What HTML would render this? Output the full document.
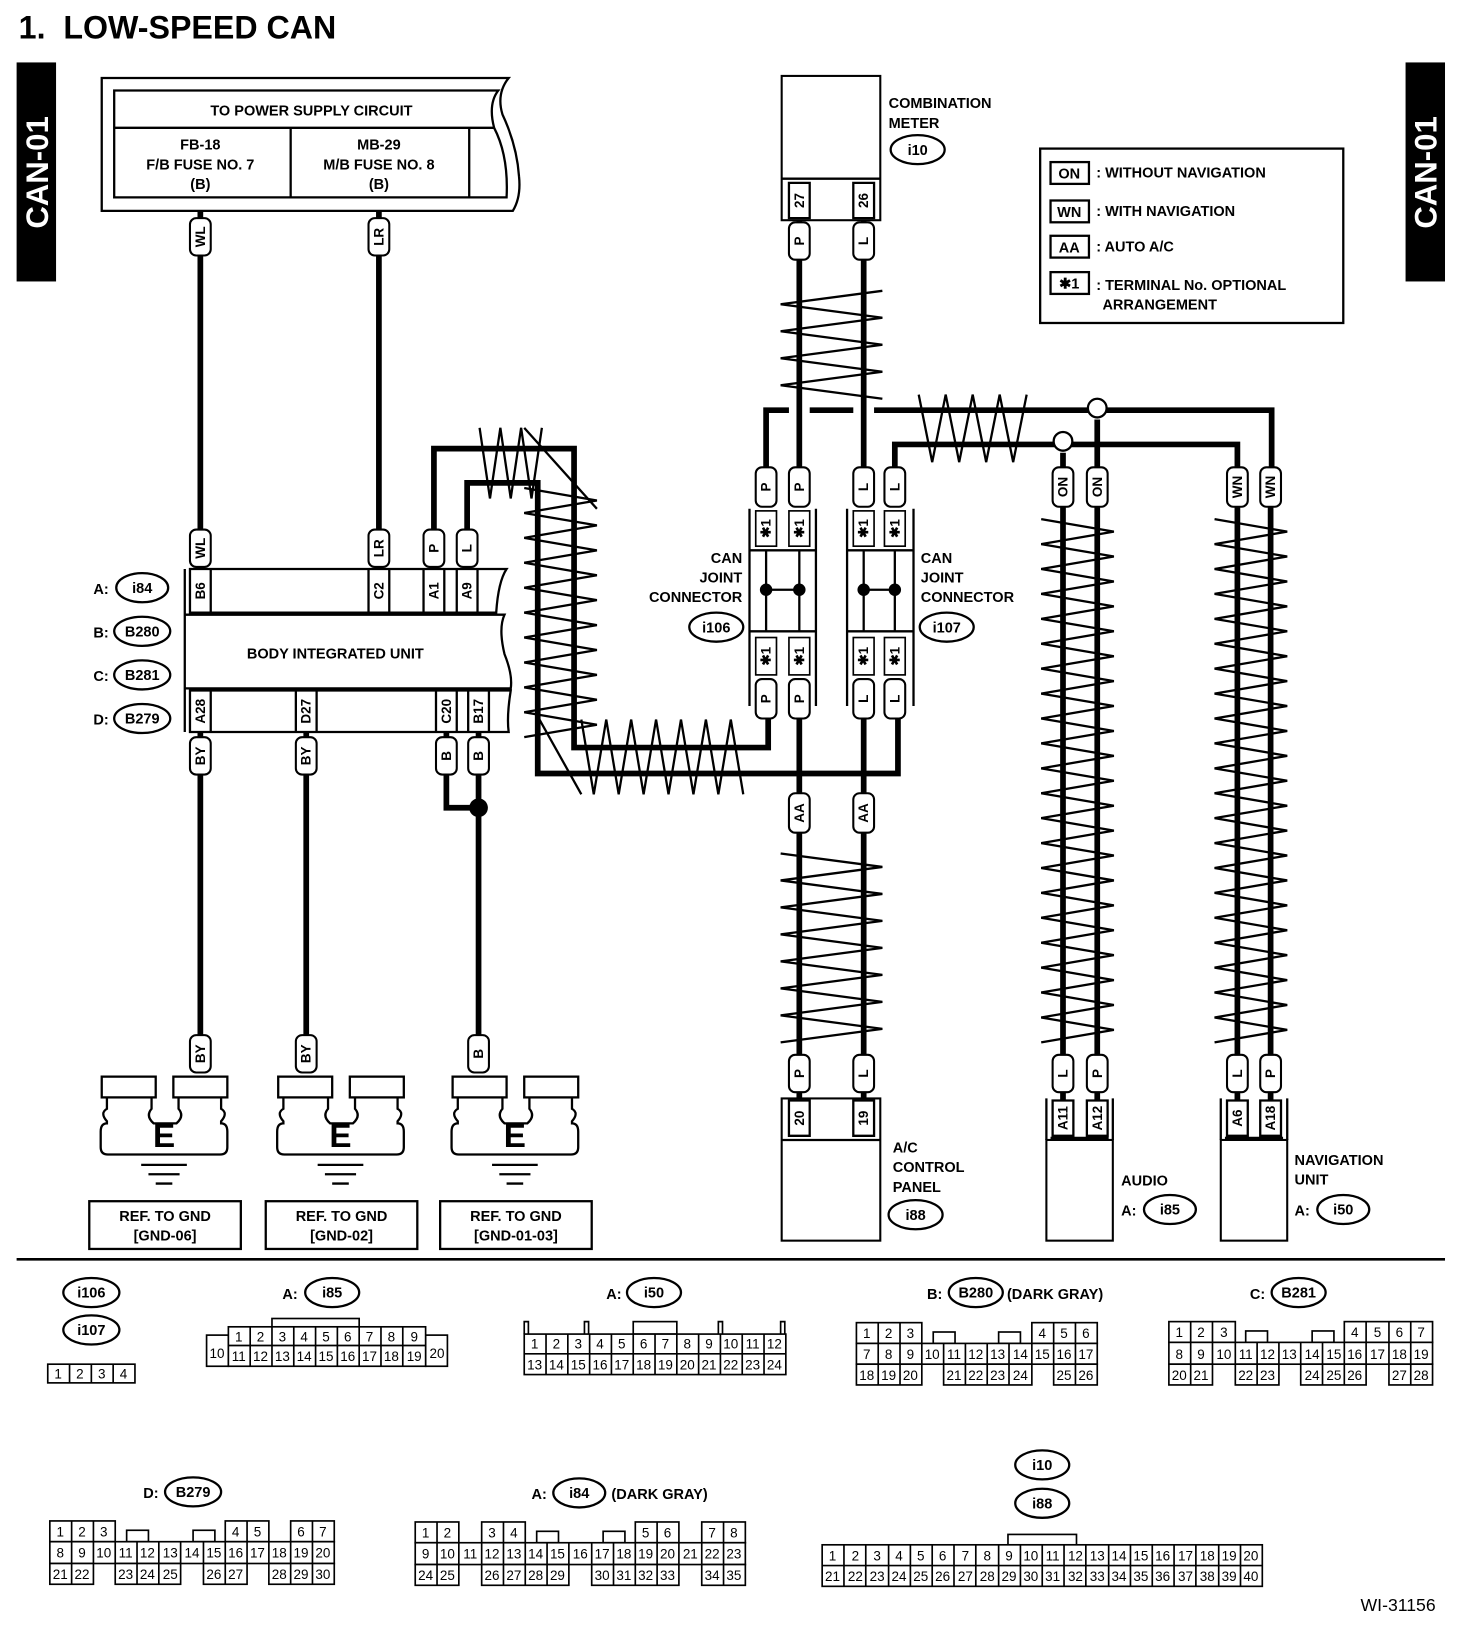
<!DOCTYPE html>
<html><head><meta charset="utf-8"><style>
html,body{margin:0;padding:0;background:#fff}
svg{display:block}
text{font-family:"Liberation Sans",sans-serif;font-weight:bold;fill:#000}
.o{fill:none;stroke:#000;stroke-width:2.2}
.w{fill:none;stroke:#000;stroke-width:5.5}
.z{fill:none;stroke:#000;stroke-width:2.2}
.p{fill:#fff;stroke:#000;stroke-width:2}
.c{fill:#fff;stroke:#000;stroke-width:1.6}
.t14{font-size:14px}
.t13{font-size:13px}
.n{font-size:13px;font-weight:normal}
</style></head><body>
<svg width="1472" height="1628" viewBox="0 0 1418 1568" xmlns="http://www.w3.org/2000/svg">
<rect width="1418" height="1568" fill="#fff"/>
<text x="18" y="37" font-size="31" xml:space="preserve">1.  LOW-SPEED CAN</text>
<rect x="16" y="60" width="38" height="211" fill="#000"/>
<text transform="translate(46,166) rotate(-90)" text-anchor="middle" font-size="30" style="fill:#fff">CAN-01</text>
<rect x="1354" y="60" width="38" height="211" fill="#000"/>
<text transform="translate(1384,166) rotate(-90)" text-anchor="middle" font-size="30" style="fill:#fff">CAN-01</text>

<!-- power supply box -->
<path class="o" d="M98,75 H490 Q478,90 484,110 Q498,140 500,170 Q502,190 494,203 H98 Z"/>
<path class="o" d="M110,87 H480 Q470,100 476,123 Q490,150 488,190 H110 Z"/>
<path class="o" d="M110,123 H476 M280,123 V190 M452,123 V190"/>
<text x="300" y="111" text-anchor="middle" class="t14">TO POWER SUPPLY CIRCUIT</text>
<text x="193" y="144" text-anchor="middle" class="t14">FB-18</text>
<text x="193" y="163" text-anchor="middle" class="t14">F/B FUSE NO. 7</text>
<text x="193" y="182" text-anchor="middle" class="t14">(B)</text>
<text x="365" y="144" text-anchor="middle" class="t14">MB-29</text>
<text x="365" y="163" text-anchor="middle" class="t14">M/B FUSE NO. 8</text>
<text x="365" y="182" text-anchor="middle" class="t14">(B)</text>

<!-- legend -->
<rect x="1002" y="143" width="292" height="168" class="o"/>
<rect x="1012" y="156" width="37" height="21" class="o"/><text x="1030" y="172" text-anchor="middle" class="t14">ON</text><text x="1056" y="171" class="t14">: WITHOUT NAVIGATION</text>
<rect x="1012" y="193" width="37" height="21" class="o"/><text x="1030" y="209" text-anchor="middle" class="t14">WN</text><text x="1056" y="208" class="t14">: WITH NAVIGATION</text>
<rect x="1012" y="227" width="37" height="21" class="o"/><text x="1030" y="243" text-anchor="middle" class="t14">AA</text><text x="1056" y="242" class="t14">: AUTO A/C</text>
<rect x="1012" y="262" width="37" height="21" class="o"/><text x="1030" y="278" text-anchor="middle" class="t14">✱1</text><text x="1056" y="279" class="t14">: TERMINAL No. OPTIONAL</text>
<text x="1062" y="298" class="t14">ARRANGEMENT</text>

<!-- wires left -->
<path class="w" d="M193,203 V548 M365,203 V548"/>
<path class="w" d="M193,705 V1000 M295,705 V1000 M430,705 V778 H461 M461,705 V1000"/>
<circle cx="461" cy="778" r="9" fill="#000"/>
<path class="w" d="M418,510 V432 H553 V720 H740 V690"/>
<path class="w" d="M450,510 V465 H518 V745 H865 V690"/>
<path class="w" d="M770,212 V450 M832,212 V450"/>
<path class="w" d="M738,450 V395 H760 M780,395 H822 M842,395 H1225 V450"/>
<path class="w" d="M862,450 V428 H1192 V450"/>
<path class="w" d="M1024,436 V450 M1057,404 V450"/>
<circle cx="1057" cy="393" r="9" fill="#fff" stroke="#000" stroke-width="2.2"/>
<circle cx="1024" cy="425" r="9" fill="#fff" stroke="#000" stroke-width="2.2"/>
<path class="w" d="M770,692 V1060 M832,692 V1060 M1024,488 V1060 M1057,488 V1060 M1192,488 V1060 M1224,488 V1060"/>

<!-- zigzags -->
<polyline class="z" points="850,280 752,293 850,306 752,319 850,332 752,345 850,358 752,371 850,384"/>
<polyline class="z" points="752,822 850,835 752,848 850,861 752,874 850,887 752,900 850,913 752,926 850,939 752,952 850,965 752,978 850,991 752,1004"/>
<polyline class="z" points="1003,500 1073,512 1003,524 1073,536 1003,548 1073,560 1003,572 1073,584 1003,596 1073,608 1003,620 1073,632 1003,644 1073,656 1003,668 1073,680 1003,692 1073,704 1003,716 1073,728 1003,740 1073,752 1003,764 1073,776 1003,788 1073,800 1003,812 1073,824 1003,836 1073,848 1003,860 1073,872 1003,884 1073,896 1003,908 1073,920 1003,932 1073,944 1003,956 1073,968 1003,980 1073,992 1003,1004"/>
<polyline class="z" points="1170,500 1240,512 1170,524 1240,536 1170,548 1240,560 1170,572 1240,584 1170,596 1240,608 1170,620 1240,632 1170,644 1240,656 1170,668 1240,680 1170,692 1240,704 1170,716 1240,728 1170,740 1240,752 1170,764 1240,776 1170,788 1240,800 1170,812 1240,824 1170,836 1240,848 1170,860 1240,872 1170,884 1240,896 1170,908 1240,920 1170,932 1240,944 1170,956 1240,968 1170,980 1240,992 1170,1004"/>
<polyline class="z" points="505,470 575,482 505,494 575,506 505,518 575,530 505,542 575,554 505,566 575,578 505,590 575,602 505,614 575,626 505,638 575,650 505,662 575,674 505,686 575,698 505,710"/>
<polyline class="z" points="560,693 572,765 584,693 596,765 608,693 620,765 632,693 644,765 656,693 668,765 680,693 692,765 704,693 716,765"/>
<polyline class="z" points="885,380 898,445 911,380 924,445 937,380 950,445 963,380 976,445 989,380"/>
<polyline class="z" points="462,412 472,480 482,412 492,480 502,412 512,480 522,412"/>
<path class="z" d="M505,412 L575,490 M518,690 L560,765"/>

<!-- combination meter -->
<rect x="753" y="73" width="95" height="139" class="p"/>
<path class="o" d="M753,172 H848 M760,176 V210 H780 V176 Z M822,176 V210 H842 V176 Z"/>
<text transform="translate(770,193) rotate(-90)" text-anchor="middle" dominant-baseline="central" class="t13">27</text>
<text transform="translate(832,193) rotate(-90)" text-anchor="middle" dominant-baseline="central" class="t13">26</text>
<text x="856" y="104" class="t14">COMBINATION</text><text x="856" y="123" class="t14">METER</text>
<ellipse cx="884" cy="144" rx="26" ry="14" class="o"/><text x="884" y="149" text-anchor="middle" class="t14">i10</text>

<!-- pills -->
<g>
<rect x="183" y="210" width="20" height="36" rx="6" class="p"/><text transform="translate(193,228) rotate(-90)" text-anchor="middle" dominant-baseline="central" class="t13">WL</text>
<rect x="355" y="210" width="20" height="36" rx="6" class="p"/><text transform="translate(365,228) rotate(-90)" text-anchor="middle" dominant-baseline="central" class="t13">LR</text>
<rect x="183" y="510" width="20" height="36" rx="6" class="p"/><text transform="translate(193,528) rotate(-90)" text-anchor="middle" dominant-baseline="central" class="t13">WL</text>
<rect x="355" y="510" width="20" height="36" rx="6" class="p"/><text transform="translate(365,528) rotate(-90)" text-anchor="middle" dominant-baseline="central" class="t13">LR</text>
<rect x="408" y="510" width="20" height="36" rx="6" class="p"/><text transform="translate(418,528) rotate(-90)" text-anchor="middle" dominant-baseline="central" class="t13">P</text>
<rect x="440" y="510" width="20" height="36" rx="6" class="p"/><text transform="translate(450,528) rotate(-90)" text-anchor="middle" dominant-baseline="central" class="t13">L</text>
<rect x="183" y="710" width="20" height="36" rx="6" class="p"/><text transform="translate(193,728) rotate(-90)" text-anchor="middle" dominant-baseline="central" class="t13">BY</text>
<rect x="285" y="710" width="20" height="36" rx="6" class="p"/><text transform="translate(295,728) rotate(-90)" text-anchor="middle" dominant-baseline="central" class="t13">BY</text>
<rect x="420" y="710" width="20" height="36" rx="6" class="p"/><text transform="translate(430,728) rotate(-90)" text-anchor="middle" dominant-baseline="central" class="t13">B</text>
<rect x="451" y="710" width="20" height="36" rx="6" class="p"/><text transform="translate(461,728) rotate(-90)" text-anchor="middle" dominant-baseline="central" class="t13">B</text>
<rect x="183" y="997" width="20" height="36" rx="6" class="p"/><text transform="translate(193,1015) rotate(-90)" text-anchor="middle" dominant-baseline="central" class="t13">BY</text>
<rect x="285" y="997" width="20" height="36" rx="6" class="p"/><text transform="translate(295,1015) rotate(-90)" text-anchor="middle" dominant-baseline="central" class="t13">BY</text>
<rect x="451" y="997" width="20" height="36" rx="6" class="p"/><text transform="translate(461,1015) rotate(-90)" text-anchor="middle" dominant-baseline="central" class="t13">B</text>
<rect x="760" y="214" width="20" height="36" rx="6" class="p"/><text transform="translate(770,232) rotate(-90)" text-anchor="middle" dominant-baseline="central" class="t13">P</text>
<rect x="822" y="214" width="20" height="36" rx="6" class="p"/><text transform="translate(832,232) rotate(-90)" text-anchor="middle" dominant-baseline="central" class="t13">L</text>
<rect x="728" y="450" width="20" height="38" rx="6" class="p"/><text transform="translate(738,469) rotate(-90)" text-anchor="middle" dominant-baseline="central" class="t13">P</text>
<rect x="760" y="450" width="20" height="38" rx="6" class="p"/><text transform="translate(770,469) rotate(-90)" text-anchor="middle" dominant-baseline="central" class="t13">P</text>
<rect x="822" y="450" width="20" height="38" rx="6" class="p"/><text transform="translate(832,469) rotate(-90)" text-anchor="middle" dominant-baseline="central" class="t13">L</text>
<rect x="852" y="450" width="20" height="38" rx="6" class="p"/><text transform="translate(862,469) rotate(-90)" text-anchor="middle" dominant-baseline="central" class="t13">L</text>
<rect x="728" y="654" width="20" height="38" rx="6" class="p"/><text transform="translate(738,673) rotate(-90)" text-anchor="middle" dominant-baseline="central" class="t13">P</text>
<rect x="760" y="654" width="20" height="38" rx="6" class="p"/><text transform="translate(770,673) rotate(-90)" text-anchor="middle" dominant-baseline="central" class="t13">P</text>
<rect x="822" y="654" width="20" height="38" rx="6" class="p"/><text transform="translate(832,673) rotate(-90)" text-anchor="middle" dominant-baseline="central" class="t13">L</text>
<rect x="852" y="654" width="20" height="38" rx="6" class="p"/><text transform="translate(862,673) rotate(-90)" text-anchor="middle" dominant-baseline="central" class="t13">L</text>
<rect x="1014" y="450" width="20" height="38" rx="6" class="p"/><text transform="translate(1024,469) rotate(-90)" text-anchor="middle" dominant-baseline="central" class="t13">ON</text>
<rect x="1047" y="450" width="20" height="38" rx="6" class="p"/><text transform="translate(1057,469) rotate(-90)" text-anchor="middle" dominant-baseline="central" class="t13">ON</text>
<rect x="1182" y="450" width="20" height="38" rx="6" class="p"/><text transform="translate(1192,469) rotate(-90)" text-anchor="middle" dominant-baseline="central" class="t13">WN</text>
<rect x="1214" y="450" width="20" height="38" rx="6" class="p"/><text transform="translate(1224,469) rotate(-90)" text-anchor="middle" dominant-baseline="central" class="t13">WN</text>
<rect x="760" y="764" width="20" height="38" rx="6" class="p"/><text transform="translate(770,783) rotate(-90)" text-anchor="middle" dominant-baseline="central" class="t13">AA</text>
<rect x="822" y="764" width="20" height="38" rx="6" class="p"/><text transform="translate(832,783) rotate(-90)" text-anchor="middle" dominant-baseline="central" class="t13">AA</text>
<rect x="760" y="1016" width="20" height="36" rx="6" class="p"/><text transform="translate(770,1034) rotate(-90)" text-anchor="middle" dominant-baseline="central" class="t13">P</text>
<rect x="822" y="1016" width="20" height="36" rx="6" class="p"/><text transform="translate(832,1034) rotate(-90)" text-anchor="middle" dominant-baseline="central" class="t13">L</text>
<rect x="1014" y="1016" width="20" height="36" rx="6" class="p"/><text transform="translate(1024,1034) rotate(-90)" text-anchor="middle" dominant-baseline="central" class="t13">L</text>
<rect x="1047" y="1016" width="20" height="36" rx="6" class="p"/><text transform="translate(1057,1034) rotate(-90)" text-anchor="middle" dominant-baseline="central" class="t13">P</text>
<rect x="1182" y="1016" width="20" height="36" rx="6" class="p"/><text transform="translate(1192,1034) rotate(-90)" text-anchor="middle" dominant-baseline="central" class="t13">L</text>
<rect x="1214" y="1016" width="20" height="36" rx="6" class="p"/><text transform="translate(1224,1034) rotate(-90)" text-anchor="middle" dominant-baseline="central" class="t13">P</text>
</g>

<!-- body integrated unit -->
<path class="o" d="M178,548 V705"/>
<path class="o" d="M183,548 H488 Q480,560 478,590 H183 Z"/>
<path class="o" d="M178,592 H486 Q480,605 486,630 Q494,650 492,663 H178"/>
<path class="o" d="M183,665 H492 Q488,690 490,705 H183 Z"/>
<path class="o" d="M203,548 V590 M355,548 V590 M375,548 V590 M408,548 V590 M428,548 V590 M440,548 V590 M460,548 V590"/>
<path class="o" d="M203,665 V705 M285,665 V705 M305,665 V705 M420,665 V705 M440,665 V705 M451,665 V705 M471,665 V705"/>
<text transform="translate(193,569) rotate(-90)" text-anchor="middle" dominant-baseline="central" class="t13">B6</text>
<text transform="translate(365,569) rotate(-90)" text-anchor="middle" dominant-baseline="central" class="t13">C2</text>
<text transform="translate(418,569) rotate(-90)" text-anchor="middle" dominant-baseline="central" class="t13">A1</text>
<text transform="translate(450,569) rotate(-90)" text-anchor="middle" dominant-baseline="central" class="t13">A9</text>
<text transform="translate(193,685) rotate(-90)" text-anchor="middle" dominant-baseline="central" class="t13">A28</text>
<text transform="translate(295,685) rotate(-90)" text-anchor="middle" dominant-baseline="central" class="t13">D27</text>
<text transform="translate(430,685) rotate(-90)" text-anchor="middle" dominant-baseline="central" class="t13">C20</text>
<text transform="translate(461,685) rotate(-90)" text-anchor="middle" dominant-baseline="central" class="t13">B17</text>
<text x="323" y="634" text-anchor="middle" class="t14">BODY INTEGRATED UNIT</text>
<text x="90" y="572" class="t14">A:</text><ellipse cx="137" cy="566" rx="25" ry="14" class="o"/><text x="137" y="571" text-anchor="middle" class="t14">i84</text>
<text x="90" y="614" class="t14">B:</text><ellipse cx="137" cy="608" rx="27" ry="14" class="o"/><text x="137" y="613" text-anchor="middle" class="t14">B280</text>
<text x="90" y="656" class="t14">C:</text><ellipse cx="137" cy="650" rx="27" ry="14" class="o"/><text x="137" y="655" text-anchor="middle" class="t14">B281</text>
<text x="90" y="698" class="t14">D:</text><ellipse cx="137" cy="692" rx="27" ry="14" class="o"/><text x="137" y="697" text-anchor="middle" class="t14">B279</text>

<!-- ground symbols -->
<g>
<rect x="98" y="1037" width="52" height="20" class="o"/><rect x="167" y="1037" width="52" height="20" class="o"/>
<path class="o" d="M103,1057 V1068 Q96,1072 103,1080 V1082 Q97,1082 97,1090 V1105 Q97,1112 104,1112 H212 Q219,1112 219,1105 V1090 Q219,1082 213,1082 V1080 Q220,1072 213,1068 V1057 M146,1057 V1068 Q140,1075 148,1082 H170 Q178,1075 172,1068 V1057"/>
<text x="158" y="1105" text-anchor="middle" font-size="32">E</text>
<path class="o" d="M136,1122 H180 M143,1131 H173 M150,1140 H166" stroke-width="2.8"/>
<rect x="86" y="1157" width="146" height="46" class="o"/>
<text x="159" y="1176" text-anchor="middle" class="t14">REF. TO GND</text><text x="159" y="1195" text-anchor="middle" class="t14">[GND-06]</text>
</g>
<g transform="translate(170,0)">
<rect x="98" y="1037" width="52" height="20" class="o"/><rect x="167" y="1037" width="52" height="20" class="o"/>
<path class="o" d="M103,1057 V1068 Q96,1072 103,1080 V1082 Q97,1082 97,1090 V1105 Q97,1112 104,1112 H212 Q219,1112 219,1105 V1090 Q219,1082 213,1082 V1080 Q220,1072 213,1068 V1057 M146,1057 V1068 Q140,1075 148,1082 H170 Q178,1075 172,1068 V1057"/>
<text x="158" y="1105" text-anchor="middle" font-size="32">E</text>
<path class="o" d="M136,1122 H180 M143,1131 H173 M150,1140 H166" stroke-width="2.8"/>
<rect x="86" y="1157" width="146" height="46" class="o"/>
<text x="159" y="1176" text-anchor="middle" class="t14">REF. TO GND</text><text x="159" y="1195" text-anchor="middle" class="t14">[GND-02]</text>
</g>
<g transform="translate(338,0)">
<rect x="98" y="1037" width="52" height="20" class="o"/><rect x="167" y="1037" width="52" height="20" class="o"/>
<path class="o" d="M103,1057 V1068 Q96,1072 103,1080 V1082 Q97,1082 97,1090 V1105 Q97,1112 104,1112 H212 Q219,1112 219,1105 V1090 Q219,1082 213,1082 V1080 Q220,1072 213,1068 V1057 M146,1057 V1068 Q140,1075 148,1082 H170 Q178,1075 172,1068 V1057"/>
<text x="158" y="1105" text-anchor="middle" font-size="32">E</text>
<path class="o" d="M136,1122 H180 M143,1131 H173 M150,1140 H166" stroke-width="2.8"/>
<rect x="86" y="1157" width="146" height="46" class="o"/>
<text x="159" y="1176" text-anchor="middle" class="t14">REF. TO GND</text><text x="159" y="1195" text-anchor="middle" class="t14">[GND-01-03]</text>
</g>

<!-- CAN joint connectors -->
<g>
<path class="o" d="M722,490 V680 M786,490 V680 M722,530 H786 M722,608 H786"/>
<rect x="728" y="492" width="20" height="34" class="c"/><rect x="760" y="492" width="20" height="34" class="c"/>
<rect x="728" y="614" width="20" height="36" class="c"/><rect x="760" y="614" width="20" height="36" class="c"/>
<path class="o" d="M738,530 V608 M770,530 V608 M738,568 H770"/>
<circle cx="738" cy="568" r="6" fill="#000"/><circle cx="770" cy="568" r="6" fill="#000"/>
<text transform="translate(738,509) rotate(-90)" text-anchor="middle" dominant-baseline="central" class="t13">✱1</text>
<text transform="translate(770,509) rotate(-90)" text-anchor="middle" dominant-baseline="central" class="t13">✱1</text>
<text transform="translate(738,632) rotate(-90)" text-anchor="middle" dominant-baseline="central" class="t13">✱1</text>
<text transform="translate(770,632) rotate(-90)" text-anchor="middle" dominant-baseline="central" class="t13">✱1</text>
</g>
<g transform="translate(94,0)">
<path class="o" d="M722,490 V680 M786,490 V680 M722,530 H786 M722,608 H786"/>
<rect x="728" y="492" width="20" height="34" class="c"/><rect x="758" y="492" width="20" height="34" class="c"/>
<rect x="728" y="614" width="20" height="36" class="c"/><rect x="758" y="614" width="20" height="36" class="c"/>
<path class="o" d="M738,530 V608 M768,530 V608 M738,568 H768"/>
<circle cx="738" cy="568" r="6" fill="#000"/><circle cx="768" cy="568" r="6" fill="#000"/>
<text transform="translate(738,509) rotate(-90)" text-anchor="middle" dominant-baseline="central" class="t13">✱1</text>
<text transform="translate(768,509) rotate(-90)" text-anchor="middle" dominant-baseline="central" class="t13">✱1</text>
<text transform="translate(738,632) rotate(-90)" text-anchor="middle" dominant-baseline="central" class="t13">✱1</text>
<text transform="translate(768,632) rotate(-90)" text-anchor="middle" dominant-baseline="central" class="t13">✱1</text>
</g>
<text x="715" y="542" text-anchor="end" class="t14">CAN</text><text x="715" y="561" text-anchor="end" class="t14">JOINT</text><text x="715" y="580" text-anchor="end" class="t14">CONNECTOR</text>
<ellipse cx="690" cy="604" rx="26" ry="14" class="o"/><text x="690" y="609" text-anchor="middle" class="t14">i106</text>
<text x="887" y="542" class="t14">CAN</text><text x="887" y="561" class="t14">JOINT</text><text x="887" y="580" class="t14">CONNECTOR</text>
<ellipse cx="912" cy="604" rx="26" ry="14" class="o"/><text x="912" y="609" text-anchor="middle" class="t14">i107</text>

<!-- A/C control panel -->
<rect x="753" y="1058" width="95" height="137" class="p"/>
<path class="o" d="M753,1098 H848 M760,1060 V1094 H780 V1060 Z M822,1060 V1094 H842 V1060 Z"/>
<text transform="translate(770,1077) rotate(-90)" text-anchor="middle" dominant-baseline="central" class="t13">20</text>
<text transform="translate(832,1077) rotate(-90)" text-anchor="middle" dominant-baseline="central" class="t13">19</text>
<text x="860" y="1110" class="t14">A/C</text><text x="860" y="1129" class="t14">CONTROL</text><text x="860" y="1148" class="t14">PANEL</text>
<ellipse cx="882" cy="1170" rx="26" ry="14" class="o"/><text x="882" y="1175" text-anchor="middle" class="t14">i88</text>

<!-- Audio -->
<rect x="1008" y="1098" width="64" height="97" class="p"/>
<path class="o" d="M1008,1058 V1098 M1072,1058 V1098 M1012,1096 H1068 M1014,1060 V1094 H1034 V1060 Z M1047,1060 V1094 H1067 V1060 Z"/>
<text transform="translate(1024,1077) rotate(-90)" text-anchor="middle" dominant-baseline="central" class="t13">A11</text>
<text transform="translate(1057,1077) rotate(-90)" text-anchor="middle" dominant-baseline="central" class="t13">A12</text>
<text x="1080" y="1142" class="t14">AUDIO</text>
<text x="1080" y="1171" class="t14">A:</text><ellipse cx="1127" cy="1165" rx="25" ry="14" class="o"/><text x="1127" y="1170" text-anchor="middle" class="t14">i85</text>

<!-- Nav -->
<rect x="1176" y="1098" width="64" height="97" class="p"/>
<path class="o" d="M1176,1058 V1098 M1240,1058 V1098 M1180,1096 H1236 M1182,1060 V1094 H1202 V1060 Z M1214,1060 V1094 H1234 V1060 Z"/>
<text transform="translate(1192,1077) rotate(-90)" text-anchor="middle" dominant-baseline="central" class="t13">A6</text>
<text transform="translate(1224,1077) rotate(-90)" text-anchor="middle" dominant-baseline="central" class="t13">A18</text>
<text x="1247" y="1122" class="t14">NAVIGATION</text><text x="1247" y="1141" class="t14">UNIT</text>
<text x="1247" y="1171" class="t14">A:</text><ellipse cx="1294" cy="1165" rx="25" ry="14" class="o"/><text x="1294" y="1170" text-anchor="middle" class="t14">i50</text>

<line x1="16" y1="1213" x2="1392" y2="1213" stroke="#000" stroke-width="2.5"/>

<!-- bottom connector labels -->
<ellipse cx="88" cy="1245" rx="27" ry="14" class="o"/><text x="88" y="1250" text-anchor="middle" class="t14">i106</text>
<ellipse cx="88" cy="1281" rx="27" ry="14" class="o"/><text x="88" y="1286" text-anchor="middle" class="t14">i107</text>
<text x="272" y="1251" class="t14">A:</text><ellipse cx="320" cy="1245" rx="26" ry="14" class="o"/><text x="320" y="1250" text-anchor="middle" class="t14">i85</text>
<text x="584" y="1251" class="t14">A:</text><ellipse cx="630" cy="1245" rx="26" ry="14" class="o"/><text x="630" y="1250" text-anchor="middle" class="t14">i50</text>
<text x="893" y="1251" class="t14">B:</text><ellipse cx="940" cy="1245" rx="26" ry="14" class="o"/><text x="940" y="1250" text-anchor="middle" class="t14">B280</text><text x="970" y="1251" class="t14">(DARK GRAY)</text>
<text x="1204" y="1251" class="t14">C:</text><ellipse cx="1251" cy="1245" rx="26" ry="14" class="o"/><text x="1251" y="1250" text-anchor="middle" class="t14">B281</text>
<text x="138" y="1443" class="t14">D:</text><ellipse cx="186" cy="1437" rx="27" ry="14" class="o"/><text x="186" y="1442" text-anchor="middle" class="t14">B279</text>
<text x="512" y="1444" class="t14">A:</text><ellipse cx="558" cy="1438" rx="25" ry="14" class="o"/><text x="558" y="1443" text-anchor="middle" class="t14">i84</text><text x="589" y="1444" class="t14">(DARK GRAY)</text>
<ellipse cx="1004" cy="1411" rx="26" ry="14" class="o"/><text x="1004" y="1416" text-anchor="middle" class="t14">i10</text>
<ellipse cx="1004" cy="1448" rx="26" ry="14" class="o"/><text x="1004" y="1453" text-anchor="middle" class="t14">i88</text>
<text x="1383" y="1552" text-anchor="end" font-size="17" style="font-weight:normal">WI-31156</text>

<!-- i106/i107 -->
<rect x="46" y="1314" width="84" height="18" class="c"/><path class="c" d="M67,1314V1332M88,1314V1332M109,1314V1332"/>
<text x="56" y="1328" text-anchor="middle" class="n">1</text><text x="77" y="1328" text-anchor="middle" class="n">2</text><text x="98" y="1328" text-anchor="middle" class="n">3</text><text x="119" y="1328" text-anchor="middle" class="n">4</text>
<!-- i85 -->
<rect x="262" y="1270" width="84" height="8" class="c"/>
<rect x="199" y="1286" width="21" height="30" class="c"/><rect x="410" y="1286" width="21" height="30" class="c"/>
<rect x="220" y="1278" width="190" height="38" class="c"/>
<path class="c" d="M220,1296H410 M241,1278V1316 M262,1278V1316 M283,1278V1316 M304,1278V1316 M325,1278V1316 M346,1278V1316 M367,1278V1316 M388,1278V1316"/>
<text x="209" y="1308" text-anchor="middle" class="n" font-size="12">10</text><text x="421" y="1308" text-anchor="middle" class="n" font-size="12">20</text>
<text x="230" y="1292" text-anchor="middle" class="n">1</text><text x="251" y="1292" text-anchor="middle" class="n">2</text><text x="272" y="1292" text-anchor="middle" class="n">3</text><text x="293" y="1292" text-anchor="middle" class="n">4</text><text x="314" y="1292" text-anchor="middle" class="n">5</text><text x="335" y="1292" text-anchor="middle" class="n">6</text><text x="356" y="1292" text-anchor="middle" class="n">7</text><text x="377" y="1292" text-anchor="middle" class="n">8</text><text x="399" y="1292" text-anchor="middle" class="n">9</text>
<text x="230" y="1311" text-anchor="middle" class="n">11</text><text x="251" y="1311" text-anchor="middle" class="n">12</text><text x="272" y="1311" text-anchor="middle" class="n">13</text><text x="293" y="1311" text-anchor="middle" class="n">14</text><text x="314" y="1311" text-anchor="middle" class="n">15</text><text x="335" y="1311" text-anchor="middle" class="n">16</text><text x="356" y="1311" text-anchor="middle" class="n">17</text><text x="377" y="1311" text-anchor="middle" class="n">18</text><text x="399" y="1311" text-anchor="middle" class="n">19</text>
<!-- i50 -->
<rect x="610" y="1273" width="42" height="12" class="c"/>
<path class="c" d="M505,1285V1273H509V1285 M563,1285V1273H567V1285 M692,1285V1273H696V1285 M752,1285V1273H756V1285"/>
<rect x="505" y="1285" width="252" height="39" class="c"/>
<path class="c" d="M505,1304H757 M526,1285V1324 M547,1285V1324 M568,1285V1324 M589,1285V1324 M610,1285V1324 M631,1285V1324 M652,1285V1324 M673,1285V1324 M694,1285V1324 M715,1285V1324 M736,1285V1324"/>
<text x="515" y="1299" text-anchor="middle" class="n">1</text><text x="536" y="1299" text-anchor="middle" class="n">2</text><text x="557" y="1299" text-anchor="middle" class="n">3</text><text x="578" y="1299" text-anchor="middle" class="n">4</text><text x="599" y="1299" text-anchor="middle" class="n">5</text><text x="620" y="1299" text-anchor="middle" class="n">6</text><text x="641" y="1299" text-anchor="middle" class="n">7</text><text x="662" y="1299" text-anchor="middle" class="n">8</text><text x="683" y="1299" text-anchor="middle" class="n">9</text><text x="704" y="1299" text-anchor="middle" class="n">10</text><text x="725" y="1299" text-anchor="middle" class="n">11</text><text x="746" y="1299" text-anchor="middle" class="n">12</text>
<text x="515" y="1319" text-anchor="middle" class="n">13</text><text x="536" y="1319" text-anchor="middle" class="n">14</text><text x="557" y="1319" text-anchor="middle" class="n">15</text><text x="578" y="1319" text-anchor="middle" class="n">16</text><text x="599" y="1319" text-anchor="middle" class="n">17</text><text x="620" y="1319" text-anchor="middle" class="n">18</text><text x="641" y="1319" text-anchor="middle" class="n">19</text><text x="662" y="1319" text-anchor="middle" class="n">20</text><text x="683" y="1319" text-anchor="middle" class="n">21</text><text x="704" y="1319" text-anchor="middle" class="n">22</text><text x="725" y="1319" text-anchor="middle" class="n">23</text><text x="746" y="1319" text-anchor="middle" class="n">24</text>
<!-- B280 -->
<rect x="825" y="1274" width="63" height="20" class="c"/><rect x="994" y="1274" width="63" height="20" class="c"/>
<path class="c" d="M846,1274V1294 M867,1274V1294 M1015,1274V1294 M1036,1274V1294"/>
<rect x="899" y="1283" width="21" height="11" class="c"/><rect x="962" y="1283" width="21" height="11" class="c"/>
<rect x="825" y="1294" width="232" height="20" class="c"/>
<path class="c" d="M846,1294V1314 M867,1294V1314 M888,1294V1314 M909,1294V1314 M930,1294V1314 M951,1294V1314 M972,1294V1314 M994,1294V1314 M1015,1294V1314 M1036,1294V1314"/>
<rect x="825" y="1314" width="63" height="20" class="c"/><rect x="909" y="1314" width="85" height="20" class="c"/><rect x="1015" y="1314" width="42" height="20" class="c"/>
<path class="c" d="M846,1314V1334 M867,1314V1334 M930,1314V1334 M951,1314V1334 M972,1314V1334 M1036,1314V1334"/>
<text x="835" y="1289" text-anchor="middle" class="n">1</text><text x="856" y="1289" text-anchor="middle" class="n">2</text><text x="877" y="1289" text-anchor="middle" class="n">3</text><text x="1004" y="1289" text-anchor="middle" class="n">4</text><text x="1025" y="1289" text-anchor="middle" class="n">5</text><text x="1046" y="1289" text-anchor="middle" class="n">6</text>
<text x="835" y="1309" text-anchor="middle" class="n">7</text><text x="856" y="1309" text-anchor="middle" class="n">8</text><text x="877" y="1309" text-anchor="middle" class="n">9</text><text x="898" y="1309" text-anchor="middle" class="n">10</text><text x="919" y="1309" text-anchor="middle" class="n">11</text><text x="940" y="1309" text-anchor="middle" class="n">12</text><text x="961" y="1309" text-anchor="middle" class="n">13</text><text x="983" y="1309" text-anchor="middle" class="n">14</text><text x="1004" y="1309" text-anchor="middle" class="n">15</text><text x="1025" y="1309" text-anchor="middle" class="n">16</text><text x="1046" y="1309" text-anchor="middle" class="n">17</text>
<text x="835" y="1329" text-anchor="middle" class="n">18</text><text x="856" y="1329" text-anchor="middle" class="n">19</text><text x="877" y="1329" text-anchor="middle" class="n">20</text><text x="919" y="1329" text-anchor="middle" class="n">21</text><text x="940" y="1329" text-anchor="middle" class="n">22</text><text x="961" y="1329" text-anchor="middle" class="n">23</text><text x="983" y="1329" text-anchor="middle" class="n">24</text><text x="1025" y="1329" text-anchor="middle" class="n">25</text><text x="1046" y="1329" text-anchor="middle" class="n">26</text>
<!-- B281 -->
<rect x="1126" y="1273" width="64" height="20" class="c"/><rect x="1295" y="1273" width="85" height="20" class="c"/>
<path class="c" d="M1147,1273V1293 M1168,1273V1293 M1316,1273V1293 M1338,1273V1293 M1359,1273V1293"/>
<rect x="1200" y="1282" width="21" height="11" class="c"/><rect x="1264" y="1282" width="21" height="11" class="c"/>
<rect x="1126" y="1293" width="254" height="21" class="c"/>
<path class="c" d="M1147,1293V1314 M1168,1293V1314 M1190,1293V1314 M1211,1293V1314 M1232,1293V1314 M1253,1293V1314 M1274,1293V1314 M1295,1293V1314 M1316,1293V1314 M1338,1293V1314 M1359,1293V1314"/>
<rect x="1126" y="1314" width="42" height="20" class="c"/><rect x="1190" y="1314" width="42" height="20" class="c"/><rect x="1253" y="1314" width="63" height="20" class="c"/><rect x="1338" y="1314" width="42" height="20" class="c"/>
<path class="c" d="M1147,1314V1334 M1211,1314V1334 M1274,1314V1334 M1295,1314V1334 M1359,1314V1334"/>
<text x="1136" y="1288" text-anchor="middle" class="n">1</text><text x="1157" y="1288" text-anchor="middle" class="n">2</text><text x="1179" y="1288" text-anchor="middle" class="n">3</text><text x="1305" y="1288" text-anchor="middle" class="n">4</text><text x="1327" y="1288" text-anchor="middle" class="n">5</text><text x="1348" y="1288" text-anchor="middle" class="n">6</text><text x="1369" y="1288" text-anchor="middle" class="n">7</text>
<text x="1136" y="1309" text-anchor="middle" class="n">8</text><text x="1157" y="1309" text-anchor="middle" class="n">9</text><text x="1179" y="1309" text-anchor="middle" class="n">10</text><text x="1200" y="1309" text-anchor="middle" class="n">11</text><text x="1221" y="1309" text-anchor="middle" class="n">12</text><text x="1242" y="1309" text-anchor="middle" class="n">13</text><text x="1264" y="1309" text-anchor="middle" class="n">14</text><text x="1285" y="1309" text-anchor="middle" class="n">15</text><text x="1305" y="1309" text-anchor="middle" class="n">16</text><text x="1327" y="1309" text-anchor="middle" class="n">17</text><text x="1348" y="1309" text-anchor="middle" class="n">18</text><text x="1369" y="1309" text-anchor="middle" class="n">19</text>
<text x="1136" y="1329" text-anchor="middle" class="n">20</text><text x="1157" y="1329" text-anchor="middle" class="n">21</text><text x="1200" y="1329" text-anchor="middle" class="n">22</text><text x="1221" y="1329" text-anchor="middle" class="n">23</text><text x="1264" y="1329" text-anchor="middle" class="n">24</text><text x="1285" y="1329" text-anchor="middle" class="n">25</text><text x="1305" y="1329" text-anchor="middle" class="n">26</text><text x="1348" y="1329" text-anchor="middle" class="n">27</text><text x="1369" y="1329" text-anchor="middle" class="n">28</text>
<!-- B279 -->
<rect x="48" y="1465" width="63" height="20" class="c"/><rect x="217" y="1465" width="42" height="20" class="c"/><rect x="280" y="1465" width="42" height="20" class="c"/>
<path class="c" d="M69,1465V1485 M90,1465V1485 M238,1465V1485 M301,1465V1485"/>
<rect x="122" y="1474" width="21" height="11" class="c"/><rect x="186" y="1474" width="21" height="11" class="c"/>
<rect x="48" y="1485" width="274" height="21" class="c"/>
<path class="c" d="M69,1485V1506 M90,1485V1506 M111,1485V1506 M132,1485V1506 M153,1485V1506 M174,1485V1506 M196,1485V1506 M217,1485V1506 M238,1485V1506 M259,1485V1506 M280,1485V1506 M301,1485V1506"/>
<rect x="48" y="1506" width="42" height="20" class="c"/><rect x="111" y="1506" width="63" height="20" class="c"/><rect x="196" y="1506" width="42" height="20" class="c"/><rect x="259" y="1506" width="63" height="20" class="c"/>
<path class="c" d="M69,1506V1526 M132,1506V1526 M153,1506V1526 M217,1506V1526 M280,1506V1526 M301,1506V1526"/>
<text x="58" y="1480" text-anchor="middle" class="n">1</text><text x="79" y="1480" text-anchor="middle" class="n">2</text><text x="100" y="1480" text-anchor="middle" class="n">3</text><text x="227" y="1480" text-anchor="middle" class="n">4</text><text x="248" y="1480" text-anchor="middle" class="n">5</text><text x="290" y="1480" text-anchor="middle" class="n">6</text><text x="311" y="1480" text-anchor="middle" class="n">7</text>
<text x="58" y="1500" text-anchor="middle" class="n">8</text><text x="79" y="1500" text-anchor="middle" class="n">9</text><text x="100" y="1500" text-anchor="middle" class="n">10</text><text x="121" y="1500" text-anchor="middle" class="n">11</text><text x="142" y="1500" text-anchor="middle" class="n">12</text><text x="164" y="1500" text-anchor="middle" class="n">13</text><text x="185" y="1500" text-anchor="middle" class="n">14</text><text x="206" y="1500" text-anchor="middle" class="n">15</text><text x="227" y="1500" text-anchor="middle" class="n">16</text><text x="248" y="1500" text-anchor="middle" class="n">17</text><text x="269" y="1500" text-anchor="middle" class="n">18</text><text x="290" y="1500" text-anchor="middle" class="n">19</text><text x="311" y="1500" text-anchor="middle" class="n">20</text>
<text x="58" y="1521" text-anchor="middle" class="n">21</text><text x="79" y="1521" text-anchor="middle" class="n">22</text><text x="121" y="1521" text-anchor="middle" class="n">23</text><text x="142" y="1521" text-anchor="middle" class="n">24</text><text x="164" y="1521" text-anchor="middle" class="n">25</text><text x="206" y="1521" text-anchor="middle" class="n">26</text><text x="227" y="1521" text-anchor="middle" class="n">27</text><text x="269" y="1521" text-anchor="middle" class="n">28</text><text x="290" y="1521" text-anchor="middle" class="n">29</text><text x="311" y="1521" text-anchor="middle" class="n">30</text>
<!-- i84 -->
<rect x="400" y="1466" width="42" height="20" class="c"/><rect x="464" y="1466" width="42" height="20" class="c"/><rect x="612" y="1466" width="42" height="20" class="c"/><rect x="676" y="1466" width="42" height="20" class="c"/>
<path class="c" d="M421,1466V1486 M485,1466V1486 M633,1466V1486 M697,1466V1486"/>
<rect x="517" y="1475" width="21" height="11" class="c"/><rect x="581" y="1475" width="21" height="11" class="c"/>
<rect x="400" y="1486" width="318" height="21" class="c"/>
<path class="c" d="M421,1486V1507 M442,1486V1507 M464,1486V1507 M485,1486V1507 M506,1486V1507 M527,1486V1507 M548,1486V1507 M570,1486V1507 M591,1486V1507 M612,1486V1507 M633,1486V1507 M654,1486V1507 M676,1486V1507 M697,1486V1507"/>
<rect x="400" y="1507" width="42" height="20" class="c"/><rect x="464" y="1507" width="84" height="20" class="c"/><rect x="570" y="1507" width="84" height="20" class="c"/><rect x="676" y="1507" width="42" height="20" class="c"/>
<path class="c" d="M421,1507V1527 M485,1507V1527 M506,1507V1527 M527,1507V1527 M591,1507V1527 M612,1507V1527 M633,1507V1527 M697,1507V1527"/>
<text x="410" y="1481" text-anchor="middle" class="n">1</text><text x="431" y="1481" text-anchor="middle" class="n">2</text><text x="474" y="1481" text-anchor="middle" class="n">3</text><text x="495" y="1481" text-anchor="middle" class="n">4</text><text x="622" y="1481" text-anchor="middle" class="n">5</text><text x="643" y="1481" text-anchor="middle" class="n">6</text><text x="686" y="1481" text-anchor="middle" class="n">7</text><text x="707" y="1481" text-anchor="middle" class="n">8</text>
<text x="410" y="1501" text-anchor="middle" class="n">9</text><text x="431" y="1501" text-anchor="middle" class="n">10</text><text x="453" y="1501" text-anchor="middle" class="n">11</text><text x="474" y="1501" text-anchor="middle" class="n">12</text><text x="495" y="1501" text-anchor="middle" class="n">13</text><text x="516" y="1501" text-anchor="middle" class="n">14</text><text x="537" y="1501" text-anchor="middle" class="n">15</text><text x="559" y="1501" text-anchor="middle" class="n">16</text><text x="580" y="1501" text-anchor="middle" class="n">17</text><text x="601" y="1501" text-anchor="middle" class="n">18</text><text x="622" y="1501" text-anchor="middle" class="n">19</text><text x="643" y="1501" text-anchor="middle" class="n">20</text><text x="665" y="1501" text-anchor="middle" class="n">21</text><text x="686" y="1501" text-anchor="middle" class="n">22</text><text x="707" y="1501" text-anchor="middle" class="n">23</text>
<text x="410" y="1522" text-anchor="middle" class="n">24</text><text x="431" y="1522" text-anchor="middle" class="n">25</text><text x="474" y="1522" text-anchor="middle" class="n">26</text><text x="495" y="1522" text-anchor="middle" class="n">27</text><text x="516" y="1522" text-anchor="middle" class="n">28</text><text x="537" y="1522" text-anchor="middle" class="n">29</text><text x="580" y="1522" text-anchor="middle" class="n">30</text><text x="601" y="1522" text-anchor="middle" class="n">31</text><text x="622" y="1522" text-anchor="middle" class="n">32</text><text x="643" y="1522" text-anchor="middle" class="n">33</text><text x="686" y="1522" text-anchor="middle" class="n">34</text><text x="707" y="1522" text-anchor="middle" class="n">35</text>
<!-- i10/i88 -->
<rect x="971" y="1478" width="66" height="10" class="c"/>
<rect x="792" y="1488" width="424" height="40" class="c"/>
<path class="c" d="M792,1508H1216 M813,1488V1528 M834,1488V1528 M856,1488V1528 M877,1488V1528 M898,1488V1528 M919,1488V1528 M940,1488V1528 M962,1488V1528 M983,1488V1528 M1004,1488V1528 M1025,1488V1528 M1046,1488V1528 M1068,1488V1528 M1089,1488V1528 M1110,1488V1528 M1131,1488V1528 M1152,1488V1528 M1174,1488V1528 M1195,1488V1528"/>
<text x="802" y="1503" text-anchor="middle" class="n">1</text><text x="824" y="1503" text-anchor="middle" class="n">2</text><text x="845" y="1503" text-anchor="middle" class="n">3</text><text x="866" y="1503" text-anchor="middle" class="n">4</text><text x="887" y="1503" text-anchor="middle" class="n">5</text><text x="908" y="1503" text-anchor="middle" class="n">6</text><text x="930" y="1503" text-anchor="middle" class="n">7</text><text x="951" y="1503" text-anchor="middle" class="n">8</text><text x="972" y="1503" text-anchor="middle" class="n">9</text><text x="993" y="1503" text-anchor="middle" class="n">10</text><text x="1014" y="1503" text-anchor="middle" class="n">11</text><text x="1036" y="1503" text-anchor="middle" class="n">12</text><text x="1057" y="1503" text-anchor="middle" class="n">13</text><text x="1078" y="1503" text-anchor="middle" class="n">14</text><text x="1099" y="1503" text-anchor="middle" class="n">15</text><text x="1120" y="1503" text-anchor="middle" class="n">16</text><text x="1142" y="1503" text-anchor="middle" class="n">17</text><text x="1163" y="1503" text-anchor="middle" class="n">18</text><text x="1184" y="1503" text-anchor="middle" class="n">19</text><text x="1205" y="1503" text-anchor="middle" class="n">20</text>
<text x="802" y="1523" text-anchor="middle" class="n">21</text><text x="824" y="1523" text-anchor="middle" class="n">22</text><text x="845" y="1523" text-anchor="middle" class="n">23</text><text x="866" y="1523" text-anchor="middle" class="n">24</text><text x="887" y="1523" text-anchor="middle" class="n">25</text><text x="908" y="1523" text-anchor="middle" class="n">26</text><text x="930" y="1523" text-anchor="middle" class="n">27</text><text x="951" y="1523" text-anchor="middle" class="n">28</text><text x="972" y="1523" text-anchor="middle" class="n">29</text><text x="993" y="1523" text-anchor="middle" class="n">30</text><text x="1014" y="1523" text-anchor="middle" class="n">31</text><text x="1036" y="1523" text-anchor="middle" class="n">32</text><text x="1057" y="1523" text-anchor="middle" class="n">33</text><text x="1078" y="1523" text-anchor="middle" class="n">34</text><text x="1099" y="1523" text-anchor="middle" class="n">35</text><text x="1120" y="1523" text-anchor="middle" class="n">36</text><text x="1142" y="1523" text-anchor="middle" class="n">37</text><text x="1163" y="1523" text-anchor="middle" class="n">38</text><text x="1184" y="1523" text-anchor="middle" class="n">39</text><text x="1205" y="1523" text-anchor="middle" class="n">40</text>
</svg>
</body></html>
